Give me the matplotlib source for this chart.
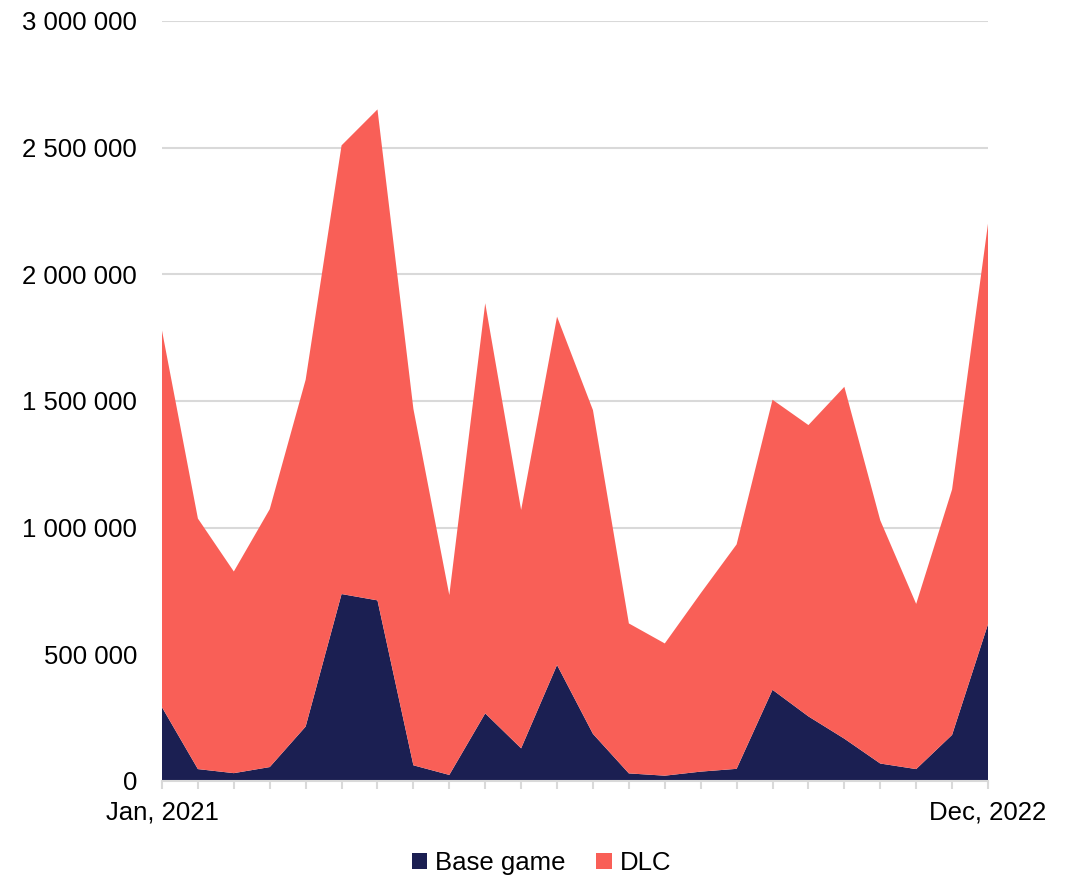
import matplotlib.pyplot as plt
from matplotlib.patches import Patch
from matplotlib.ticker import FuncFormatter

plt.rcParams['font.family'] = ['Liberation Sans', 'DejaVu Sans']

# monthly revenue, Jan 2021 .. Dec 2022
months = ["Jan, 2021", "Feb, 2021", "Mar, 2021", "Apr, 2021", "May, 2021", "Jun, 2021",
          "Jul, 2021", "Aug, 2021", "Sep, 2021", "Oct, 2021", "Nov, 2021", "Dec, 2021",
          "Jan, 2022", "Feb, 2022", "Mar, 2022", "Apr, 2022", "May, 2022", "Jun, 2022",
          "Jul, 2022", "Aug, 2022", "Sep, 2022", "Oct, 2022", "Nov, 2022", "Dec, 2022"]
base_game = [291000, 47000, 31000, 55000, 215000, 738000, 713000, 62000, 24000, 267000,
             129000, 458000, 186000, 30000, 21000, 37000, 48000, 360000, 255000, 167000,
             69000, 47000, 182000, 619000]
dlc = [1487000, 989000, 796000, 1018000, 1369000, 1771000, 1938000, 1407000, 710000,
       1619000, 941000, 1375000, 1278000, 592000, 522000, 704000, 886000, 1145000,
       1150000, 1389000, 960000, 652000, 969000, 1581000]

NAVY = "#1B1F52"
CORAL = "#F95F57"
GRID = "#D9D9D9"
FS = 18.5

fig = plt.figure(figsize=(10.83, 8.83), dpi=100)
ax = fig.add_axes([162 / 1083, 102 / 883, 826 / 1083, 760 / 883])

x = list(range(len(months)))
ax.stackplot(x, base_game, dlc, colors=[NAVY, CORAL], linewidth=0, zorder=2)

ax.set_xlim(0, len(months) - 1)
ax.set_ylim(0, 3000000)
ax.set_yticks(range(0, 3000001, 500000))
ax.yaxis.set_major_formatter(FuncFormatter(lambda v, p: f"{v:,.0f}".replace(",", " ")))
ax.grid(axis="y", color=GRID, linewidth=1.5, zorder=0)
ax.set_axisbelow(True)

ax.set_xticks(x)
ax.set_xticklabels([m if i in (0, len(months) - 1) else "" for i, m in enumerate(months)])

for side in ("top", "right", "left"):
    ax.spines[side].set_visible(False)
ax.spines["bottom"].set_color(GRID)
ax.spines["bottom"].set_linewidth(1.5)
ax.spines["bottom"].set_zorder(3)

ax.tick_params(axis="y", length=0, pad=18, labelsize=FS, labelcolor="black")
ax.tick_params(axis="x", length=6, width=1.5, color=GRID, pad=8, labelsize=FS,
               labelcolor="black")

handles = [Patch(facecolor=NAVY, label="Base game"), Patch(facecolor=CORAL, label="DLC")]
fig.legend(handles=handles, loc="center", bbox_to_anchor=(0.5, 20 / 883), ncol=2,
           frameon=False, fontsize=FS, handlelength=0.6, handleheight=0.6,
           handletextpad=0.3, columnspacing=1.2)

fig.savefig("out.png", dpi=100, facecolor="white")
